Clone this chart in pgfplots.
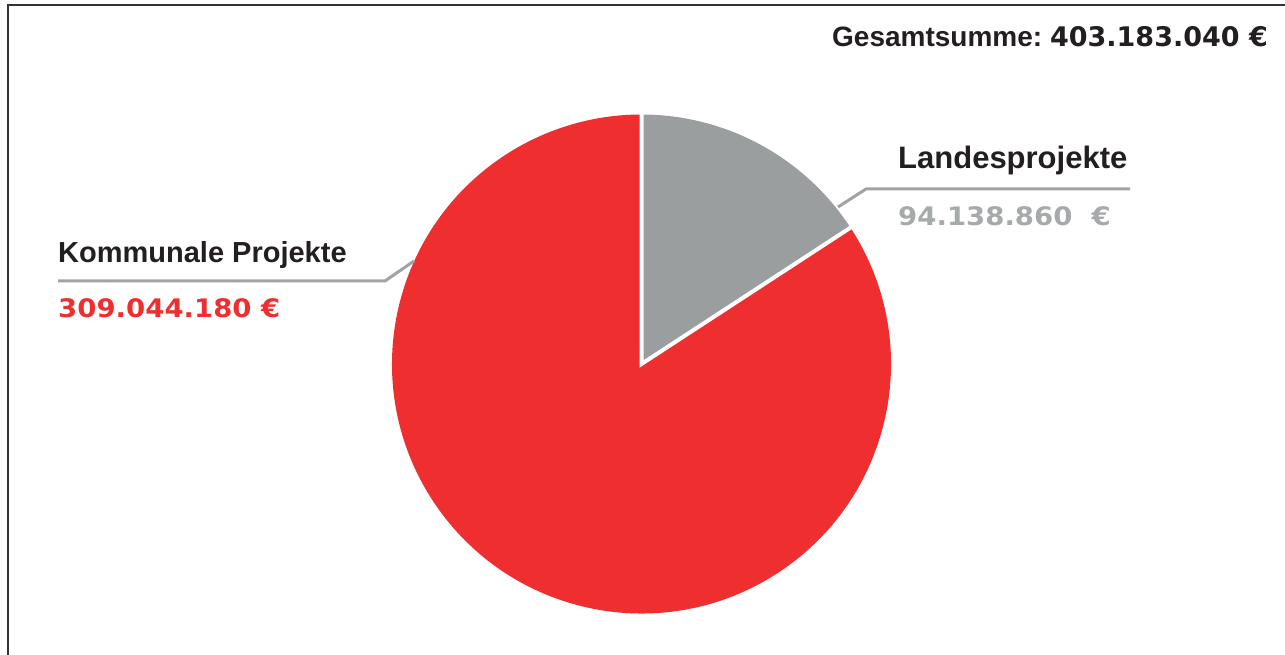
\documentclass[border=0pt]{standalone}
\usepackage{pgfplots}
\usepackage{pgfplotstable}
\pgfplotsset{compat=1.18}
\usepackage{fontspec}
\setmainfont{Liberation Sans}
\newfontfamily\labfont{Liberation Sans}
\newfontfamily\valfont[FakeStretch=1.08]{DejaVu Sans}
\newfontfamily\hvalfont{DejaVu Sans}
\definecolor{piered}{HTML}{EE2E2F}
\definecolor{piegray}{HTML}{9B9E9F}
\definecolor{valgray}{HTML}{A7AAAB}
\definecolor{leadgray}{HTML}{A0A3A4}
\definecolor{txt}{HTML}{231F20}
\definecolor{frame}{HTML}{333333}

% shares of the pie as drawn (percent)
\pgfplotstableread{
name share
Landesprojekte 15.8
Kommunale 84.2
}\piedata

\begin{document}
\begin{tikzpicture}
\pgfplotstablegetelem{0}{share}\of\piedata
\pgfmathsetmacro{\shareA}{\pgfplotsretval}
\pgfmathsetmacro{\angB}{90-3.6*\shareA}
\pgfmathsetmacro{\bx}{cos(\angB)}
\pgfmathsetmacro{\by}{sin(\angB)}
\begin{axis}[
  hide axis, scale only axis,
  width=499bp, height=499bp,
  xmin=-1, xmax=1, ymin=-1, ymax=1,
  at={(392bp,41.5bp)}, anchor=south west,
  clip=false,
]
% Landesprojekte slice
\fill[piegray] (axis cs:0,0) -- (axis cs:0,1) arc[start angle=90, end angle=\angB, radius=249.5bp] -- cycle;
% Kommunale Projekte slice
\fill[piered] (axis cs:0,0) -- (axis cs:\bx,\by) arc[start angle=\angB, end angle=-270, radius=249.5bp] -- cycle;
% white separators
\draw[white, line width=4bp, line cap=butt] (axis cs:0,1.01) -- (axis cs:0,0) -- (axis cs:{1.01*\bx},{1.01*\by});
\end{axis}
% frame (top and left)
\draw[frame, line width=2bp] (8bp,0bp) -- (8bp,650bp) -- (1285bp,650bp);
% header
\node[anchor=base east, inner sep=0pt, text=txt] at (1268bp,608bp)
  {{\labfont\bfseries\fontsize{28bp}{28bp}\selectfont Gesamtsumme:\ }{\hvalfont\bfseries\fontsize{27bp}{27bp}\selectfont 403.183.040~€}};
% Kommunale label
\node[anchor=base west, inner sep=0pt, text=txt] at (58bp,392bp)
  {\labfont\bfseries\fontsize{29bp}{29bp}\selectfont Kommunale Projekte};
\draw[leadgray, line width=3bp] (58bp,374bp) -- (385bp,374bp) -- (414bp,394bp);
\node[anchor=base west, inner sep=0pt, text=piered] at (58bp,337bp)
  {\valfont\bfseries\fontsize{25.5bp}{25.5bp}\selectfont 309.044.180~€};
% Landesprojekte label
\node[anchor=base west, inner sep=0pt, text=txt] at (898bp,486bp)
  {\labfont\bfseries\fontsize{31bp}{31bp}\selectfont Landesprojekte};
\draw[leadgray, line width=3bp] (838bp,448bp) -- (866bp,466bp) -- (1130bp,466bp);
\node[anchor=base west, inner sep=0pt, text=valgray] at (898bp,429bp)
  {\valfont\bfseries\fontsize{25.5bp}{25.5bp}\selectfont 94.138.860~~€};
\pgfresetboundingbox
\path (0bp,0bp) rectangle (1285bp,655bp);
\end{tikzpicture}
\end{document}
